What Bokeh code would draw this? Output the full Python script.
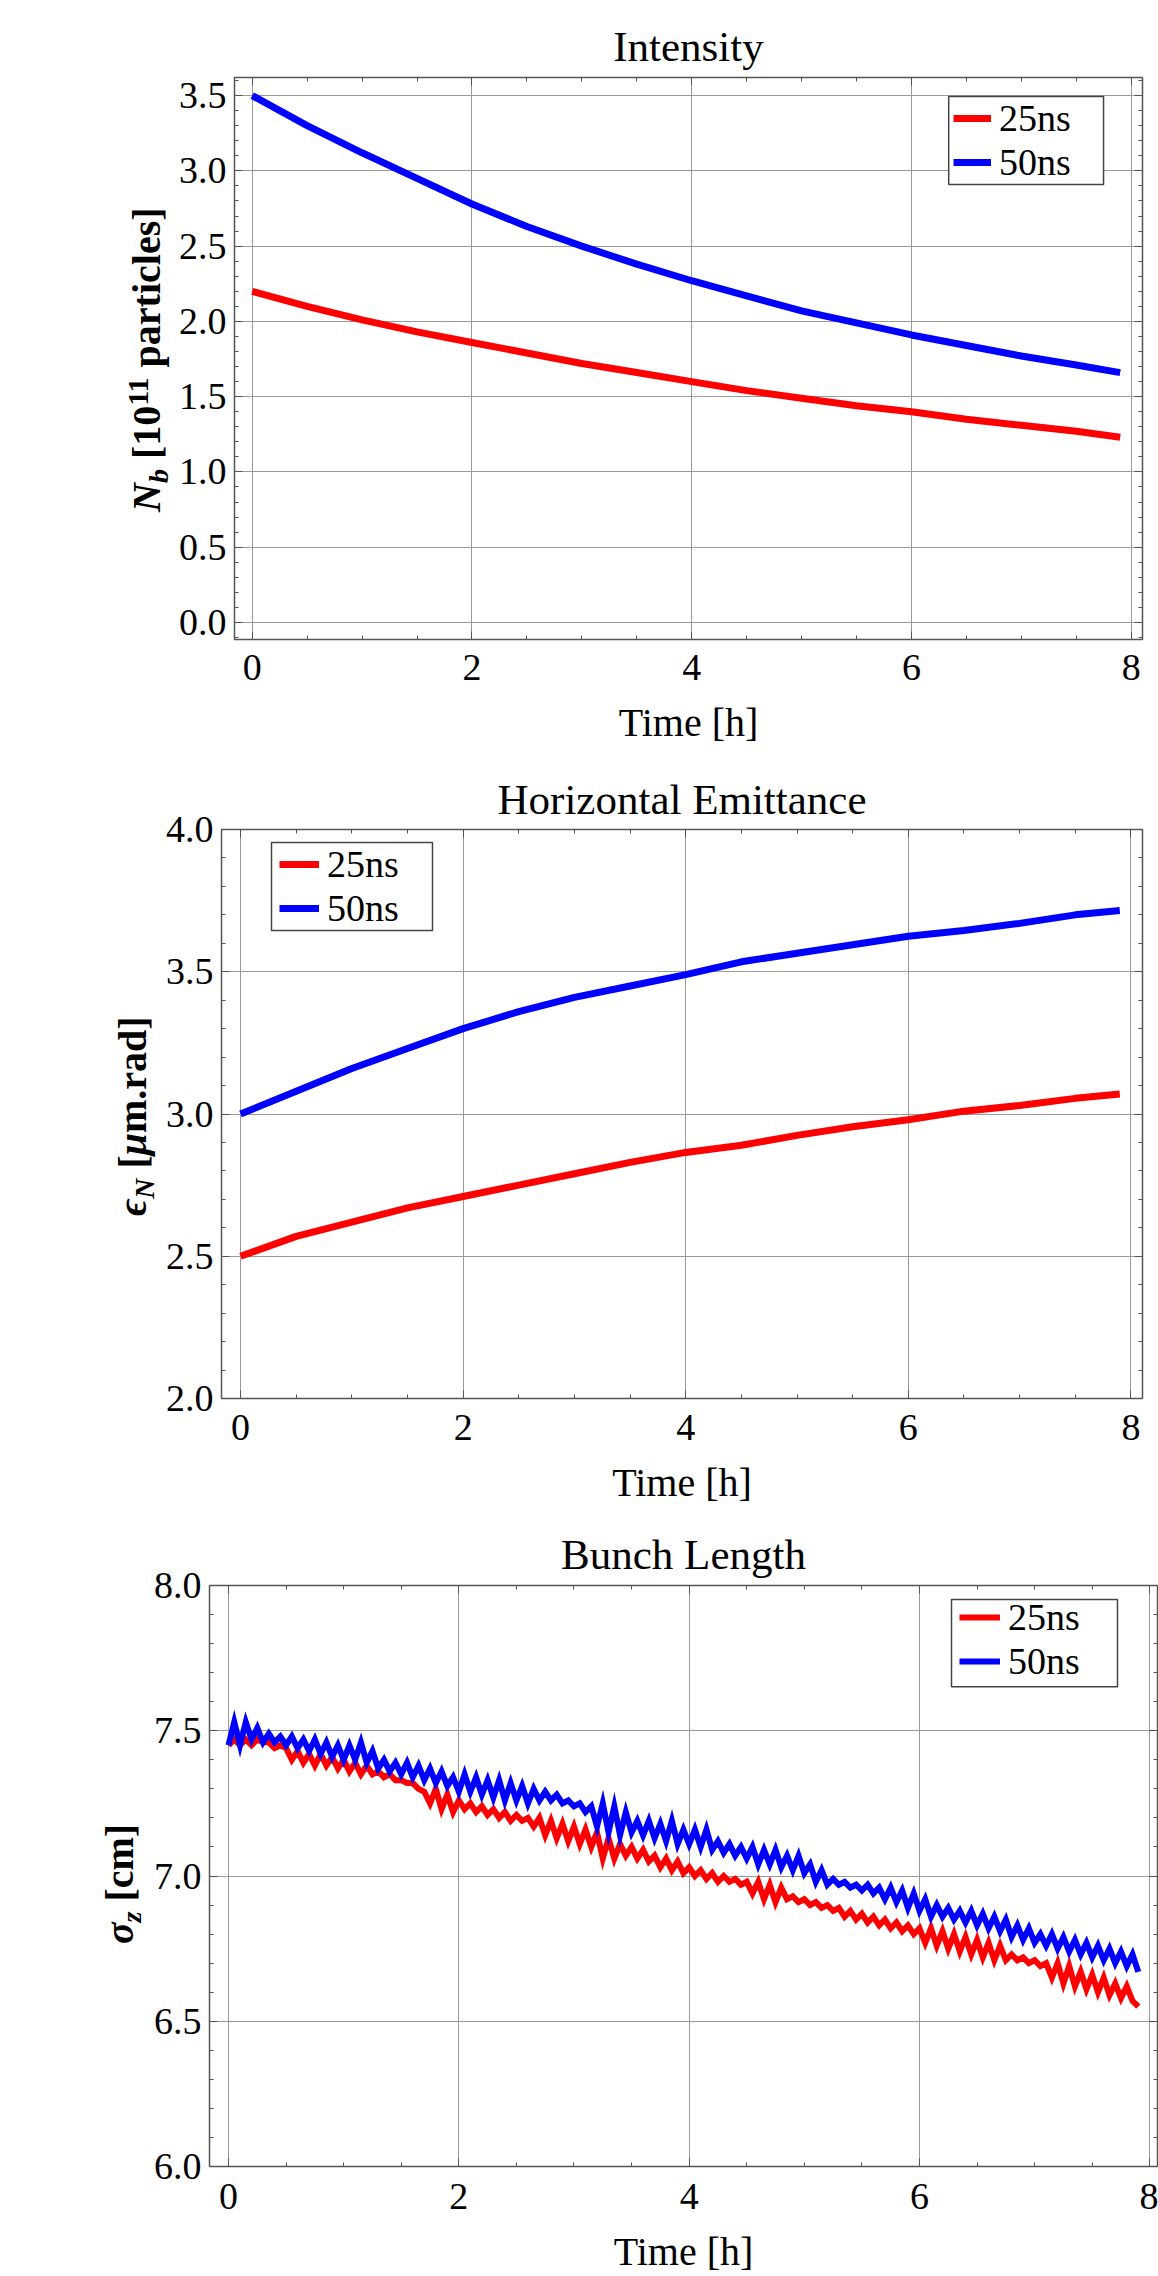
from bokeh.plotting import figure
from bokeh.layouts import column, row
from bokeh.models import (Range1d, SingleIntervalTicker, LinearAxis, CustomJSTickFormatter,
                          PrintfTickFormatter, Legend, LegendItem, BoxAnnotation, Div)
from bokeh.embed import file_html
from bokeh.resources import INLINE

FONT = "Liberation Serif"

# ---------------- data ----------------
series_labels = ["25ns", "50ns"]

# Intensity [1e11 particles]
t_int = [0.0, 0.5, 1.0, 1.5, 2.0, 2.5, 3.0, 3.5, 4.0, 4.5, 5.0, 5.5, 6.0, 6.5, 7.0, 7.5, 7.9]
nb_25 = [2.20, 2.10, 2.01, 1.93, 1.86, 1.79, 1.72, 1.66, 1.60, 1.54, 1.49, 1.44, 1.40, 1.35, 1.31, 1.27, 1.23]
nb_50 = [3.50, 3.30, 3.12, 2.95, 2.78, 2.63, 2.50, 2.38, 2.27, 2.17, 2.07, 1.99, 1.91, 1.84, 1.77, 1.71, 1.66]

# Horizontal emittance [um.rad]
t_emit = [0.0, 0.5, 1.0, 1.5, 2.0, 2.5, 3.0, 3.5, 4.0, 4.5, 5.0, 5.5, 6.0, 6.5, 7.0, 7.5, 7.9]
emit_25 = [2.50, 2.57, 2.62, 2.67, 2.71, 2.75, 2.79, 2.83, 2.865, 2.89, 2.925, 2.955, 2.98, 3.01, 3.03, 3.055, 3.07]
emit_50 = [3.00, 3.08, 3.16, 3.23, 3.30, 3.36, 3.41, 3.45, 3.49, 3.535, 3.565, 3.595, 3.625, 3.645, 3.67, 3.70, 3.715]

# Bunch length [cm]
t_bl = [0.00, 0.05, 0.10, 0.15, 0.20, 0.25, 0.30, 0.35, 0.40, 0.45,
        0.50, 0.55, 0.60, 0.65, 0.70, 0.75, 0.80, 0.85, 0.90, 0.95,
        1.00, 1.05, 1.10, 1.15, 1.20, 1.25, 1.30, 1.35, 1.40, 1.45,
        1.50, 1.55, 1.60, 1.65, 1.70, 1.75, 1.80, 1.85, 1.90, 1.95,
        2.00, 2.05, 2.10, 2.15, 2.20, 2.25, 2.30, 2.35, 2.40, 2.45,
        2.50, 2.55, 2.60, 2.65, 2.70, 2.75, 2.80, 2.85, 2.90, 2.95,
        3.00, 3.05, 3.10, 3.15, 3.20, 3.25, 3.30, 3.35, 3.40, 3.45,
        3.50, 3.55, 3.60, 3.65, 3.70, 3.75, 3.80, 3.85, 3.90, 3.95,
        4.00, 4.05, 4.10, 4.15, 4.20, 4.25, 4.30, 4.35, 4.40, 4.45,
        4.50, 4.55, 4.60, 4.65, 4.70, 4.75, 4.80, 4.85, 4.90, 4.95,
        5.00, 5.05, 5.10, 5.15, 5.20, 5.25, 5.30, 5.35, 5.40, 5.45,
        5.50, 5.55, 5.60, 5.65, 5.70, 5.75, 5.80, 5.85, 5.90, 5.95,
        6.00, 6.05, 6.10, 6.15, 6.20, 6.25, 6.30, 6.35, 6.40, 6.45,
        6.50, 6.55, 6.60, 6.65, 6.70, 6.75, 6.80, 6.85, 6.90, 6.95,
        7.00, 7.05, 7.10, 7.15, 7.20, 7.25, 7.30, 7.35, 7.40, 7.45,
        7.50, 7.55, 7.60, 7.65, 7.70, 7.75, 7.80, 7.85, 7.90]
bl_25 = [7.45, 7.47, 7.45, 7.47, 7.45, 7.47, 7.46, 7.46, 7.44, 7.45,
         7.44, 7.40, 7.43, 7.39, 7.42, 7.38, 7.42, 7.38, 7.41, 7.37,
         7.40, 7.36, 7.39, 7.35, 7.38, 7.35, 7.36, 7.34, 7.35, 7.33,
         7.33, 7.32, 7.32, 7.30, 7.29, 7.25, 7.30, 7.23, 7.28, 7.22,
         7.26, 7.23, 7.25, 7.22, 7.24, 7.21, 7.23, 7.20, 7.22, 7.19,
         7.21, 7.19, 7.20, 7.17, 7.20, 7.14, 7.19, 7.13, 7.18, 7.12,
         7.17, 7.11, 7.16, 7.10, 7.15, 7.06, 7.13, 7.06, 7.11, 7.07,
         7.10, 7.06, 7.09, 7.05, 7.07, 7.03, 7.06, 7.02, 7.05, 7.01,
         7.03, 7.00, 7.02, 6.99, 7.01, 6.98, 7.00, 6.98, 6.99, 6.97,
         6.98, 6.94, 6.98, 6.92, 6.97, 6.91, 6.96, 6.92, 6.93, 6.91,
         6.92, 6.90, 6.91, 6.89, 6.90, 6.88, 6.89, 6.86, 6.88, 6.85,
         6.87, 6.84, 6.86, 6.83, 6.85, 6.82, 6.84, 6.81, 6.83, 6.80,
         6.82, 6.77, 6.82, 6.76, 6.81, 6.75, 6.80, 6.74, 6.79, 6.73,
         6.78, 6.72, 6.77, 6.71, 6.76, 6.71, 6.73, 6.71, 6.72, 6.70,
         6.71, 6.69, 6.70, 6.65, 6.70, 6.63, 6.69, 6.62, 6.67, 6.61,
         6.66, 6.60, 6.65, 6.59, 6.63, 6.58, 6.62, 6.57, 6.55]
bl_50 = [7.45, 7.53, 7.45, 7.53, 7.47, 7.51, 7.46, 7.49, 7.46, 7.48,
         7.45, 7.48, 7.44, 7.47, 7.43, 7.47, 7.42, 7.46, 7.41, 7.45,
         7.40, 7.45, 7.40, 7.46, 7.39, 7.43, 7.37, 7.40, 7.36, 7.39,
         7.35, 7.39, 7.34, 7.38, 7.33, 7.37, 7.32, 7.36, 7.31, 7.34,
         7.29, 7.35, 7.29, 7.34, 7.28, 7.33, 7.27, 7.33, 7.26, 7.32,
         7.26, 7.31, 7.25, 7.30, 7.26, 7.29, 7.26, 7.28, 7.25, 7.26,
         7.24, 7.25, 7.22, 7.24, 7.17, 7.25, 7.15, 7.24, 7.14, 7.22,
         7.15, 7.19, 7.14, 7.19, 7.13, 7.18, 7.12, 7.19, 7.11, 7.16,
         7.11, 7.16, 7.10, 7.16, 7.09, 7.12, 7.08, 7.11, 7.07, 7.10,
         7.06, 7.10, 7.04, 7.09, 7.04, 7.09, 7.03, 7.07, 7.02, 7.07,
         7.01, 7.04, 6.98, 7.02, 6.97, 6.99, 6.97, 6.98, 6.96, 6.97,
         6.95, 6.97, 6.94, 6.96, 6.92, 6.96, 6.91, 6.95, 6.89, 6.94,
         6.88, 6.92, 6.86, 6.90, 6.86, 6.89, 6.85, 6.88, 6.84, 6.88,
         6.83, 6.87, 6.82, 6.86, 6.81, 6.85, 6.79, 6.83, 6.78, 6.82,
         6.77, 6.80, 6.76, 6.80, 6.75, 6.79, 6.74, 6.78, 6.73, 6.77,
         6.72, 6.76, 6.71, 6.75, 6.70, 6.74, 6.69, 6.73, 6.67]

RED = "#ff0000"
BLUE = "#0000ff"
FRAME = "#555555"


def blank_axis(interval, nminor):
    ax = LinearAxis(ticker=SingleIntervalTicker(interval=interval, num_minor_ticks=nminor),
                    formatter=CustomJSTickFormatter(code="return ''"))
    ax.axis_line_color = None
    ax.major_tick_in = 8
    ax.major_tick_out = 0
    ax.minor_tick_in = 4
    ax.minor_tick_out = 0
    ax.major_tick_line_color = FRAME
    ax.minor_tick_line_color = FRAME
    ax.major_label_standoff = 0
    return ax


class Panel:
    """Frame geometry (in page pixels) used to place the legend box."""
    def __init__(self, fl, ft, fw, fh, xr, yr):
        self.fl, self.ft, self.fw, self.fh, self.xr, self.yr = fl, ft, fw, fh, xr, yr

    def X(self, px):
        return self.xr[0] + (px - self.fl) * (self.xr[1] - self.xr[0]) / self.fw

    def Y(self, py):
        return self.yr[1] - (py - self.ft) * (self.yr[1] - self.yr[0]) / self.fh


def make_fig(width, height, g, borders, title, title_standoff, tick_standoff, label_standoff):
    left, right, top, bottom = borders
    p = figure(width=width, height=height, x_range=Range1d(*g.xr), y_range=Range1d(*g.yr),
               output_backend="svg", toolbar_location=None,
               min_border_left=left, min_border_right=right,
               min_border_top=top, min_border_bottom=bottom)
    p.title.text = title
    p.title.align = "center"
    p.title.text_font = FONT
    p.title.text_font_size = "43px"
    p.title.text_font_style = "normal"
    p.title.text_color = "black"
    p.title.standoff = title_standoff

    p.background_fill_color = "white"
    p.border_fill_color = "white"
    p.outline_line_color = FRAME
    p.outline_line_width = 1.5

    p.xaxis.ticker = SingleIntervalTicker(interval=2, num_minor_ticks=4)
    p.yaxis.ticker = SingleIntervalTicker(interval=0.5, num_minor_ticks=5)
    p.yaxis.formatter = PrintfTickFormatter(format="%.1f")
    for ax in (p.xaxis[0], p.yaxis[0]):
        ax.axis_line_color = None
        ax.major_tick_in = 8
        ax.major_tick_out = 0
        ax.minor_tick_in = 4
        ax.minor_tick_out = 0
        ax.major_tick_line_color = FRAME
        ax.minor_tick_line_color = FRAME
        ax.major_label_text_font = FONT
        ax.major_label_text_font_size = "38px"
        ax.major_label_text_color = "black"
    p.xaxis.major_label_standoff = tick_standoff
    p.yaxis.major_label_standoff = 8
    p.xaxis.axis_label = "Time [h]"
    p.xaxis.axis_label_text_font = FONT
    p.xaxis.axis_label_text_font_size = "40px"
    p.xaxis.axis_label_text_font_style = "normal"
    p.xaxis.axis_label_text_color = "black"
    p.xaxis.axis_label_standoff = label_standoff

    p.add_layout(blank_axis(0.5, 5), "right")
    p.add_layout(blank_axis(2, 4), "above")

    p.xgrid.grid_line_color = "#9a9a9a"
    p.ygrid.grid_line_color = "#9a9a9a"
    p.xgrid.grid_line_width = 1
    p.ygrid.grid_line_width = 1
    return p


def add_series(p, g, t, y25, y50, lw, join, box, rows, glyph_x, glyph_w):
    r25 = p.line(t, y25, line_color=RED, line_width=lw, line_join=join)
    r50 = p.line(t, y50, line_color=BLUE, line_width=lw, line_join=join)
    bl, br, bt, bb = box
    p.add_layout(BoxAnnotation(left=g.X(bl), right=g.X(br), top=g.Y(bt), bottom=g.Y(bb),
                               fill_color="white", fill_alpha=1.0,
                               line_color="#444444", line_width=1.5, line_alpha=1.0))
    frame_bottom = g.ft + g.fh
    for r, lab, ry in ((r25, series_labels[0], rows[0]), (r50, series_labels[1], rows[1])):
        leg = Legend(items=[LegendItem(label=lab, renderers=[r])],
                     location=(glyph_x - g.fl, frame_bottom - ry - 22))
        leg.label_text_font = FONT
        leg.label_text_font_size = "38px"
        leg.label_text_color = "black"
        leg.glyph_width = glyph_w
        leg.glyph_height = 20
        leg.label_height = 44
        leg.label_standoff = 8
        leg.padding = 0
        leg.spacing = 0
        leg.margin = 0
        leg.border_line_color = None
        leg.background_fill_alpha = 0
        p.add_layout(leg)


SUB = "position:relative;top:8px;font-size:28px"
SUP = "position:relative;top:-12px;font-size:30px"


def ylabel_div(width, height, left, start, html):
    inner = ("<div style=\"position:absolute;left:%dpx;top:%dpx;transform:rotate(-90deg);"
             "transform-origin:0 0;white-space:nowrap;font-family:'Liberation Serif';"
             "font-size:40px;font-weight:bold;line-height:40px;color:#000\">%s</div>"
             % (left, start, html))
    outer = ("<div style=\"position:relative;width:%dpx;height:%dpx;\">%s</div>"
             % (width, height, inner))
    return Div(text=outer, width=width, height=height, margin=0)


# ---------------- panel 1: intensity ----------------
g1 = Panel(233, 77, 909, 562, (-0.161, 8.103), (-0.113, 3.62))
p1 = make_fig(983, 760, g1, (58, 16, 77, 121), "Intensity", 15, 15, 17)
add_series(p1, g1, t_int, nb_25, nb_50, 7, "round", (948, 1103, 96, 184), (118, 162), 952, 38)
d1 = ylabel_div(175, 760, 127, 512,
                "<i>N</i><span style=\"%s\"><i>b</i></span> [10<span style=\"%s\">11</span> particles]"
                % (SUB, SUP))

# ---------------- panel 2: emittance ----------------
g2 = Panel(221, 829, 921, 569, (-0.171, 8.104), (2.0, 4.0))
p2 = make_fig(998, 760, g2, (61, 16, 69, 122), "Horizontal Emittance", 13, 16, 17)
add_series(p2, g2, t_emit, emit_25, emit_50, 7, "round", (271, 432, 842, 930), (864, 908), 279, 40)
d2 = ylabel_div(160, 760, 113, 1216 - 760,
                "<i>\u03f5</i><span style=\"%s\"><i>N</i></span> [<i>\u03bc</i>m.rad]" % SUB)

# ---------------- panel 3: bunch length ----------------
g3 = Panel(209, 1581, 948, 585, (-0.165, 8.067), (6.0, 8.0))
p3 = make_fig(1008, 756, g3, (59, 1, 61, 110), "Bunch Length", 16, 17, 17)
add_series(p3, g3, t_bl, bl_25, bl_50, 6, "miter", (951, 1117, 1595, 1683), (1617, 1661), 959, 41)
d3 = ylabel_div(150, 756, 100, 1944 - 1520,
                "<i>\u03c3</i><span style=\"%s\"><i>z</i></span> [cm]" % SUB)

layout = column(row(d1, p1, spacing=0), row(d2, p2, spacing=0), row(d3, p3, spacing=0), spacing=0)
open("out.html", "w").write(file_html(layout, INLINE))
